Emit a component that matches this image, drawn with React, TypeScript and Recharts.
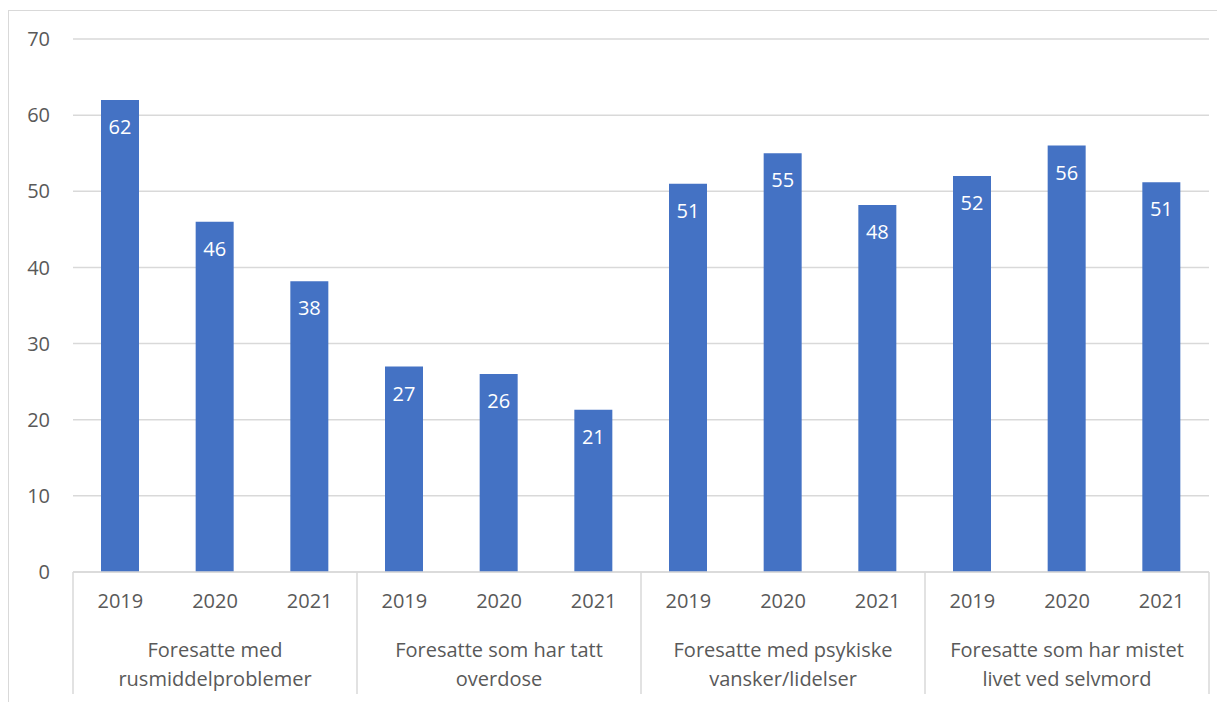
import { BarChart, Bar, XAxis, YAxis, CartesianGrid, LabelList } from 'recharts';

// Andel (%) per gruppe og år
const groups = [
    ['Foresatte med', 'rusmiddelproblemer'],
    ['Foresatte som har tatt', 'overdose'],
    ['Foresatte med psykiske', 'vansker/lidelser'],
    ['Foresatte som har mistet', 'livet ved selvmord'],
];
const years = ['2019', '2020', '2021'];
const values = [
    [62, 46, 38.2],
    [27, 26, 21.3],
    [51, 55, 48.2],
    [52, 56, 51.2],
];
const yTicks = [0, 10, 20, 30, 40, 50, 60, 70];

const data = groups.flatMap((g, gi) =>
    years.map((y, yi) => ({ key: `${gi}-${y}`, year: y, group: gi, value: values[gi][yi] })),
);

const FONT = '"Open Sans", sans-serif';
const FS = 20;
const TEXT = '#595959';
const LINE = '#D9D9D9';
const BAR = '#4472C4';

// second axis row: group labels + separators
function GroupTick(props: any) {
    const { x, y, payload, index } = props;
    const half = payload?.offset ?? 47.33;
    const pos = index % 3;
    const gi = Math.floor(index / 3);
    const top = y - 50;
    const bottom = y + 72;
    return (
        <g>
            {pos === 0 && <line x1={x - half} x2={x - half} y1={top} y2={bottom} stroke={LINE} strokeWidth={1.5} />}
            {index === data.length - 1 && (
                <line x1={x + half} x2={x + half} y1={top} y2={bottom} stroke={LINE} strokeWidth={1.5} />
            )}
            {pos === 1 &&
                groups[gi].map((line, li) => (
                    <text key={li} x={x} y={y + 35 + li * 29} textAnchor="middle" fill={TEXT} fontSize={FS} fontFamily={FONT}>
                        {line}
                    </text>
                ))}
        </g>
    );
}

export default function App() {
    return (
        <div
            style={{
                position: 'relative',
                width: 1217,
                height: 694,
                borderTop: `1.5px solid ${LINE}`,
                borderLeft: `1.5px solid ${LINE}`,
                marginTop: 2,
                boxSizing: 'border-box',
            }}
        >
            <div style={{ position: 'absolute', left: -1.5, top: -3.5 }}>
                <BarChart
                    width={1217}
                    height={694}
                    data={data}
                    margin={{ top: 31, right: 16, bottom: 0, left: 0 }}
                    barSize={38}
                >
                    <CartesianGrid stroke={LINE} strokeWidth={1.5} vertical={false} />
                    <YAxis
                        domain={[0, 70]}
                        ticks={yTicks}
                        interval={0}
                        width={65}
                        axisLine={false}
                        tickLine={false}
                        tickSize={0}
                        tickMargin={23}
                        tick={{ fill: TEXT, fontSize: FS, fontFamily: FONT }}
                    />
                    <XAxis
                        dataKey="year"
                        xAxisId={0}
                        interval={0}
                        height={50}
                        axisLine={{ stroke: LINE, strokeWidth: 1.5 }}
                        tickLine={false}
                        tickSize={0}
                        tickMargin={22}
                        tick={{ fill: TEXT, fontSize: FS, fontFamily: FONT }}
                    />
                    <XAxis
                        dataKey="key"
                        xAxisId="group"
                        interval={0}
                        height={80}
                        axisLine={false}
                        tickLine={false}
                        tickSize={0}
                        tickMargin={0}
                        tick={<GroupTick />}
                    />
                    <Bar dataKey="value" xAxisId={0} fill={BAR} isAnimationActive={false}>
                        <LabelList
                            dataKey="value"
                            position="insideTop"
                            offset={20}
                            formatter={(v: any) => Math.round(Number(v))}
                            style={{ fill: '#FFFFFF', fontSize: FS, fontFamily: FONT }}
                        />
                    </Bar>
                </BarChart>
            </div>
        </div>
    );
}
